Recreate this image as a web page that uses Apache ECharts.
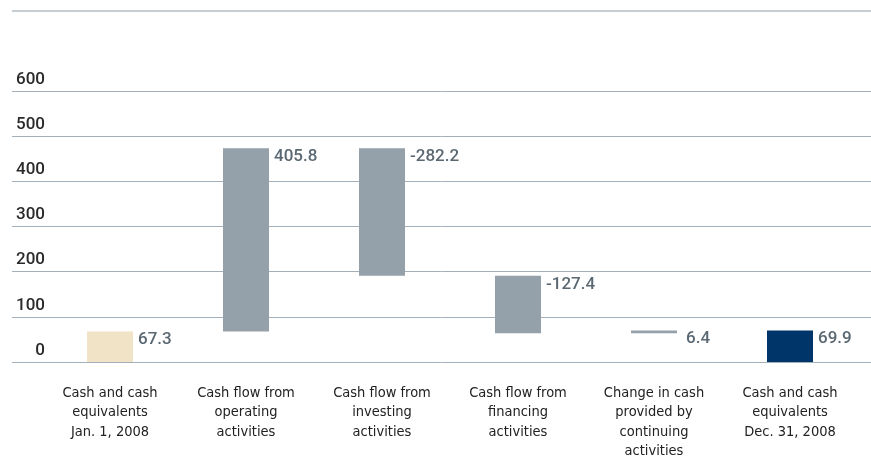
<!DOCTYPE html>
<html>
<head>
<meta charset="utf-8">
<script src="https://cdn.jsdelivr.net/npm/echarts@6/dist/echarts.min.js"></script>
<style>
  html, body { margin: 0; padding: 0; background: #fff; }
  #main { width: 871px; height: 459px; }
</style>
</head>
<body>
<div id="main"></div>
<script>
// categories and values (EUR million)
var categories = [
    'Cash and cash\nequivalents\nJan. 1, 2008',
    'Cash flow from\noperating\nactivities',
    'Cash flow from\ninvesting\nactivities',
    'Cash flow from\nfinancing\nactivities',
    'Change in cash\nprovided by\ncontinuing\nactivities',
    'Cash and cash\nequivalents\nDec. 31, 2008'
];
var values = [67.3, 405.8, -282.2, -127.4, 6.4, 69.9];
var labels = ['67.3', '405.8', '-282.2', '-127.4', '6.4', '69.9'];
var yTicks = [0, 600, 100];

var barColors = ['#f1e4c6', '#95a1aa', '#95a1aa', '#95a1aa', '#95a1aa', '#00356a'];

// build waterfall: first and last bars start at zero, others float
var base = [];
var height = [];
var running = 0;
for (var i = 0; i < values.length; i++) {
    if (i == 0 || i == values.length - 1) {
        base.push(0);
        height.push(Math.abs(values[i]));
        running = values[i];
    } else {
        var next = running + values[i];
        base.push(Math.min(running, next));
        height.push(Math.abs(values[i]));
        running = next;
    }
}

var myChart = echarts.init(document.getElementById('main'));

var option = {
    animation: false,
    graphic: [{
        type: 'line',
        shape: { x1: 12, y1: 11, x2: 871, y2: 11 },
        style: { stroke: '#b5bec5', lineWidth: 1.5 }
    }],
    grid: [
        { left: 12, right: 0, top: 91, bottom: 97, outerBoundsMode: 'none', containLabel: false },
        { left: 42, right: 13, top: 91, bottom: 97, outerBoundsMode: 'none', containLabel: false }
    ],
    xAxis: [
        { gridIndex: 0, type: 'value', show: false, min: 0, max: 1 },
        {
            gridIndex: 1,
            type: 'category',
            data: categories,
            axisLine: { show: false },
            axisTick: { show: false },
            axisLabel: {
                interval: 0,
                margin: 21,
                color: '#222',
                fontFamily: '"Liberation Sans Narrow", "DejaVu Sans Condensed", sans-serif',
                fontSize: 14.5,
                lineHeight: 19.5,
                verticalAlign: 'top'
            }
        }
    ],
    yAxis: [
        {
            gridIndex: 0,
            type: 'value',
            min: yTicks[0],
            max: yTicks[1],
            interval: yTicks[2],
            axisLine: { show: false },
            axisTick: { show: false },
            splitLine: { lineStyle: { color: '#a3afb9', width: 1 } },
            axisLabel: {
                inside: true,
                align: 'right',
                verticalAlign: 'bottom',
                margin: 33,
                padding: [0, 0, 3, 0],
                color: '#2a2a2a',
                fontFamily: 'Roboto, sans-serif',
                fontWeight: 500,
                fontSize: 17
            }
        },
        {
            gridIndex: 1,
            type: 'value',
            min: yTicks[0],
            max: yTicks[1],
            show: false
        }
    ],
    series: [
        {
            type: 'bar',
            xAxisIndex: 1,
            yAxisIndex: 1,
            stack: 'wf',
            barWidth: 46,
            itemStyle: { color: 'transparent' },
            silent: true,
            data: base
        },
        {
            type: 'bar',
            xAxisIndex: 1,
            yAxisIndex: 1,
            stack: 'wf',
            barWidth: 46,
            data: height.map(function(h, i) {
                return {
                    value: h,
                    itemStyle: { color: barColors[i] },
                    label: { offset: [i == 4 ? 9 : 5, 0] }
                };
            }),
            label: {
                show: true,
                position: ['100%', 0],
                align: 'left',
                verticalAlign: 'top',
                color: '#5a6872',
                fontFamily: 'Roboto, sans-serif',
                fontWeight: 500,
                fontSize: 17,
                formatter: function(p) {
                    return labels[p.dataIndex];
                }
            }
        }
    ]
};

myChart.setOption(option);
</script>
</body>
</html>
